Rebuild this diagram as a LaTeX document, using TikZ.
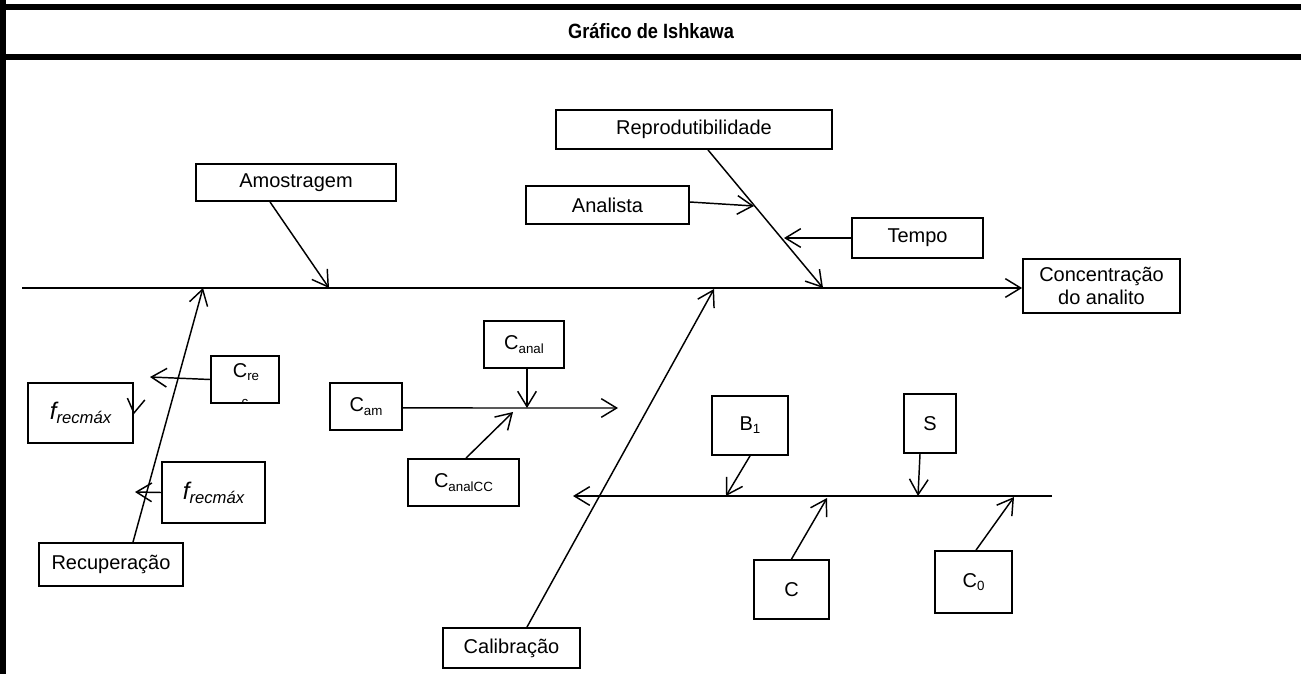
\documentclass[tikz,border=0pt]{standalone}
\usepackage{fontspec}
\setmainfont{Liberation Sans}
\usetikzlibrary{arrows.meta}
\newcommand{\sub}[1]{\raisebox{-2.4pt}{\fontsize{10}{10}\selectfont #1}}
\newcommand{\fsub}[1]{\raisebox{-3pt}{\fontsize{12.5}{12.5}\selectfont #1}}
\tikzset{
  box/.style={draw, line width=1.4pt, inner sep=0pt, font=\fontsize{15}{17.25}\selectfont, align=center},
  fbox/.style={box, font=\fontsize{18}{20}\selectfont\itshape},
  sz/.style 2 args={minimum width=#1*0.75pt, minimum height=#2*0.75pt},
  arr/.style={line width=1.1pt, -{Straight Barb[length=11.5pt,width=14pt,line width=1.1pt]}},
  lbl/.style={inner sep=0pt, font=\fontsize{15}{17.25}\selectfont}
}
\begin{document}
\begin{tikzpicture}[x=0.75pt, y=-0.75pt]
\useasboundingbox (0,0) rectangle (1301,674);
% frame bars
\fill (0,4) rectangle (1301,10);
\fill (0,54) rectangle (1301,60);
\fill (0,0) rectangle (6,674);
\node[font=\fontsize{15.5}{17}\selectfont\bfseries] (title) at (651,31) {\scalebox{0.88}[1]{Gráfico de Ishkawa}};

% effect
\node[box, sz={157}{54}] (conc) at (1101.5,286) {Concentração\\do analito};
\coordinate (spineL) at (22,288);
\draw[arr] (spineL) -- (spineL -| conc.west);

% main causes
\node[box, sz={200}{37}] (amo) at (296,182.5) {Amostragem};
\node[box, sz={276}{39}] (rep) at (694,129.5) {Reprodutibilidade};
\node[box, sz={163}{38}] (ana) at (607.5,205) {Analista};
\node[box, sz={131}{40}] (tem) at (917.5,238) {Tempo};
\node[box, sz={144}{43}] (rec) at (111,564.5) {Recuperação};
\node[box, sz={137}{40}] (cal) at (511.5,648) {Calibração};

\coordinate (pAmo) at (329,288);
\coordinate (pRep) at (823,288);
\coordinate (pAna) at (754,206);
\coordinate (pTem) at (784,238);
\coordinate (pRec) at (203,288);
\coordinate (pCal) at (714,289);

\draw[arr] ([xshift=-19.5pt]amo.south) -- (pAmo);
\draw[arr] ([xshift=10.5pt]rep.south) -- (pRep);
\draw[arr] ([yshift=2.25pt]ana.east) -- (pAna);
\draw[arr] (tem.west) -- (pTem);
\draw[arr] ([xshift=16.5pt]rec.north) -- (pRec);
\draw[arr] ([xshift=11.6pt]cal.north) -- (pCal);

% recovery factors
\node[box, sz={68}{47}] (crec) at (245,379.5) {};
\node[lbl, anchor=base] at (246,377) {C\sub{re}};
\begin{scope}
  \clip (crec.south west) rectangle (crec.north east);
  \node[inner sep=0pt, anchor=base, font=\fontsize{10}{10}\selectfont] at (245,406) {c};
\end{scope}
\node[fbox, sz={105}{60}] (fl) at (80.5,413) {f\fsub{recmáx}};
\node[fbox, sz={103}{61}] (flo) at (213.5,492.5) {f\fsub{recmáx}};
\coordinate (pCrec) at (150,377);
\coordinate (pFlo) at (135,492);
\draw[arr] (crec.west) -- (pCrec);
\draw[arr] (flo.west) -- (pFlo);
\draw[line width=1.1pt, line join=miter] ([shift={(-4.9pt,11.2pt)}]fl.east) -- (fl.east) -- ([shift={(8.2pt,9.8pt)}]fl.east);

% concentration sub-branch
\node[box, sz={72}{47}] (cam) at (366,406.5) {C\sub{am}};
\node[box, sz={80}{47}] (canal) at (524,344.5) {C\sub{anal}};
\node[box, sz={111}{47}] (canc) at (463.5,482.5) {C\sub{analCC}};
\coordinate (camEnd) at (618,408);
\coordinate (pCanal) at (527,408);
\coordinate (pCanc) at (513,412);
\draw[arr] ([yshift=-1.1pt]cam.east) -- (camEnd);
\draw[arr] ([xshift=2.25pt]canal.south) -- (pCanal);
\draw[arr] ([xshift=1.9pt]canc.north) -- (pCanc);

% calibration sub-branch
\node[box, sz={76}{59}] (b1) at (750,425.5) {B\sub{1}};
\node[box, sz={52}{59}] (s) at (930,423.5) {S};
\node[box, sz={75}{59}] (c) at (791.5,589.5) {C};
\node[box, sz={77}{62}] (c0) at (973.5,582) {C\sub{0}};
\coordinate (calR) at (1052,496);
\coordinate (calL) at (573,496);
\draw[arr] (calR) -- (calL);
\coordinate (pB1) at (726,496);
\coordinate (pS) at (918,496);
\coordinate (pC) at (827,498);
\coordinate (pC0) at (1014,497);
\draw[arr] (b1.south) -- (pB1);
\draw[arr] ([xshift=-7.5pt]s.south) -- (pS);
\draw[arr] (c.north) -- (pC);
\draw[arr] ([xshift=1.9pt]c0.north) -- (pC0);
\end{tikzpicture}
\end{document}
